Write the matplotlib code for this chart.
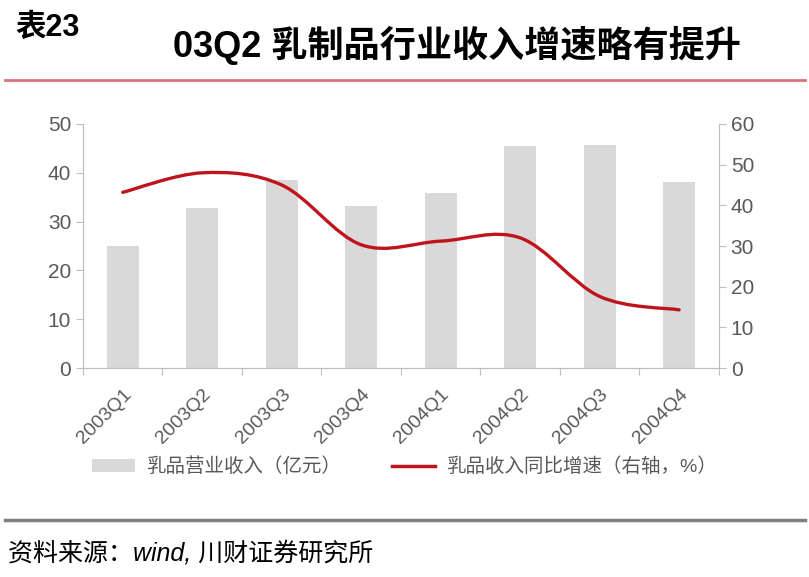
import matplotlib
matplotlib.use("Agg")
import matplotlib.pyplot as plt
from matplotlib.path import Path
from matplotlib.patches import PathPatch, Patch
from matplotlib.lines import Line2D
import numpy as np

plt.rcParams['font.family'] = ['Liberation Sans', 'Noto Sans CJK SC']

quarters = ["2003Q1", "2003Q2", "2003Q3", "2003Q4",
            "2004Q1", "2004Q2", "2004Q3", "2004Q4"]
revenue = [25.0, 32.7, 38.6, 33.1, 35.8, 45.5, 45.7, 38.1]   # 亿元
growth = [43.2, 48.0, 45.0, 30.3, 31.2, 32.0, 17.6, 14.3]    # %, right axis

bar_name = "乳品营业收入（亿元）"
line_name = "乳品收入同比增速（右轴，%）"

bar_color = "#d9d9d9"
line_color = "#c0141c"
grey_txt = "#595959"
spine_c = "#bfbfbf"


def smooth_path(xs, ys):
    # excel style smoothed line: cubic bezier through every point
    pts = list(zip(xs, ys))
    verts = [pts[0]]
    codes = [Path.MOVETO]
    n = len(pts)
    for i in range(n - 1):
        p0 = pts[max(i - 1, 0)]
        p1 = pts[i]
        p2 = pts[i + 1]
        p3 = pts[min(i + 2, n - 1)]
        c1 = (p1[0] + (p2[0] - p0[0]) / 6.0, p1[1] + (p2[1] - p0[1]) / 6.0)
        c2 = (p2[0] - (p3[0] - p1[0]) / 6.0, p2[1] - (p3[1] - p1[1]) / 6.0)
        verts += [c1, c2, p2]
        codes += [Path.CURVE4] * 3
    return Path(verts, codes)


fig = plt.figure(figsize=(8.09, 5.77), dpi=100)
ax = fig.add_axes([0.1026, 0.3622, 0.786, 0.4229])
x = np.arange(len(quarters))
ax.bar(x, revenue, width=0.4, color=bar_color, zorder=1)
ax.set_xlim(-0.5, len(quarters) - 0.5)
ax.set_ylim(0, 50)
ax.set_yticks(range(0, 51, 10))

ax.set_xticks(np.arange(-0.5, len(quarters)), minor=False)
ax.set_xticklabels([])
ax.set_xticks(x, minor=True)
ax.set_xticklabels(quarters, minor=True, rotation=45, ha="right",
                   rotation_mode="anchor", fontsize=14, color=grey_txt)
ax.tick_params(axis="x", which="minor", length=0, pad=13)
ax.tick_params(axis="x", which="major", length=5, color=spine_c, direction="out")
ax.tick_params(axis="y", length=5, color=spine_c, labelsize=15, labelcolor=grey_txt)

ax2 = ax.twinx()
ax2.set_ylim(0, 60)
ax2.set_yticks(range(0, 61, 10))
ax2.tick_params(axis="y", length=5, color=spine_c, labelsize=15, labelcolor=grey_txt)
ax2.add_patch(PathPatch(smooth_path(x, growth), fill=False,
                        edgecolor=line_color, lw=2.4, capstyle="round"))

for a in (ax, ax2):
    a.spines["top"].set_visible(False)
    for s in ("left", "right", "bottom"):
        a.spines[s].set_color(spine_c)

handles = [Patch(facecolor=bar_color, edgecolor="none"),
           Line2D([0], [0], color=line_color, lw=2.5)]
fig.legend(handles, [bar_name, line_name], loc="center", ncol=2,
           bbox_to_anchor=(0.5, 1 - 467 / 577), frameon=False, fontsize=14,
           labelcolor=grey_txt, handlelength=2.2, handleheight=0.6,
           columnspacing=2.6, handletextpad=0.6)

fig.text(15 / 809, 1 - 28 / 577, "表23", fontsize=22, fontweight="bold",
         va="center", ha="left")
fig.text(457 / 809, 1 - 45 / 577, "03Q2 乳制品行业收入增速略有提升",
         fontsize=26, fontweight="bold", va="center", ha="center")
fig.add_artist(Line2D([5 / 809, 805 / 809], [1 - 80 / 577, 1 - 80 / 577],
                      color="#d9737b", lw=2))
fig.add_artist(Line2D([5 / 809, 805 / 809], [1 - 520 / 577, 1 - 520 / 577],
                      color="#7f7f7f", lw=2.5))
fig.text(8 / 809, 1 - 553 / 577, "资料来源：wind, 川财证券研究所", fontsize=18,
         style="italic", va="center", ha="left")

fig.savefig("out.png", dpi=100)
